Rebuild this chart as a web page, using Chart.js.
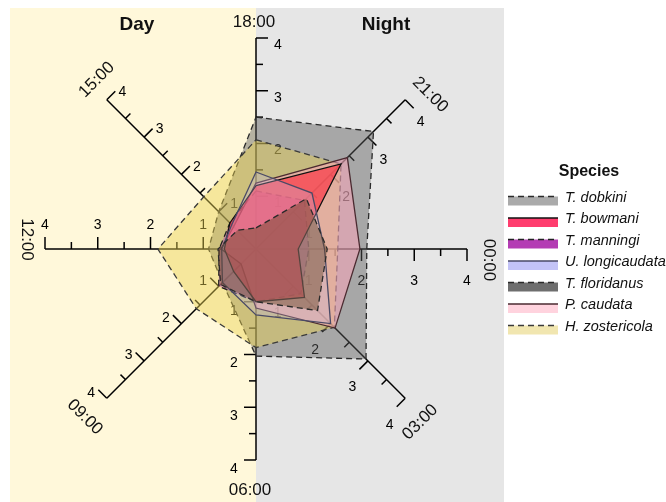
<!DOCTYPE html>
<html>
<head>
<meta charset="utf-8">
<script src="https://cdn.jsdelivr.net/npm/chart.js@4.4.0/dist/chart.umd.min.js"></script>
<style>
  html, body { margin: 0; padding: 0; background: #ffffff; }
  #wrap { position: relative; width: 666px; height: 502px; }
</style>
</head>
<body>
<div id="wrap"><canvas id="c" width="666" height="502"></canvas></div>
<script>
// Hours of the day, clockwise from the top
const timeLabels = ['18:00', '21:00', '00:00', '03:00', '06:00', '09:00', '12:00', '15:00'];
const tickValues = [1, 2, 3, 4];
const minorTickValues = [1.5, 2.5, 3.5];

const speciesNames = ['T. dobkini', 'T. bowmani', 'T. manningi', 'U. longicaudata',
                      'T. floridanus', 'P. caudata', 'H. zostericola'];

// Activity per time of day for each species
const dobkini      = [2.50, 3.15, 2.10, 2.95, 2.03, 0.90, 0.90, 1.00];
const bowmani      = [1.20, 2.28, 0.80, 1.30, 1.00, 0.60, 0.60, 0.70];
const manningi     = [1.10, 1.30, 1.00, 1.20, 1.00, 1.00, 0.70, 0.70];
const longicaudata = [1.46, 1.50, 1.30, 2.00, 1.25, 0.90, 0.65, 0.65];
const floridanus   = [0.40, 1.35, 1.35, 1.65, 1.00, 0.95, 0.72, 0.50];
const caudata      = [1.25, 2.45, 1.97, 2.12, 1.12, 0.40, 0.66, 0.60];
const zostericola  = [2.07, 2.28, 1.55, 2.10, 1.87, 1.60, 1.86, 1.40];

const seriesValues = [dobkini, bowmani, manningi, longicaudata, floridanus, caudata, zostericola];

// Styling per species (same order as speciesNames)
const fillColors = [
  'rgba(90,90,90,0.45)',
  'rgba(255,40,60,0.62)',
  'rgba(170,40,175,0.40)',
  'rgba(195,185,230,0.30)',
  'rgba(105,70,40,0.45)',
  'rgba(250,165,185,0.55)',
  'rgba(235,210,80,0.45)'
];
const legendFills = ['#AAAAAA', '#FF3D6E', '#B43CB4', '#C3C3F7', '#6E6E6E', '#FFD3DE', '#F1E6B0'];
const lineColors = ['#2a2a2a', '#111111', '#222222', '#4a4a66', '#2a2a2a', '#4a2a30', '#3a3a3a'];
const dashed = [true, false, true, false, true, false, true];
// stacking: higher number is painted first
const drawOrder = [7, 3, 5, 2, 1, 4, 6];

const FONT = '"Liberation Sans", Arial, Helvetica, sans-serif';

const datasets = speciesNames.map((name, i) => ({
  label: name,
  data: seriesValues[i],
  backgroundColor: fillColors[i],
  borderColor: lineColors[i],
  borderWidth: 1.3,
  borderDash: dashed[i] ? [6, 4] : [],
  fill: true,
  pointRadius: 0,
  pointHoverRadius: 0,
  tension: 0,
  order: drawOrder[i]
}));

// Day / Night background panels and their headings
const panelsPlugin = {
  id: 'dayNightPanels',
  beforeDraw(chart) {
    const ctx = chart.ctx;
    const r = chart.scales.r;
    const cx = r.xCenter;
    ctx.save();
    ctx.fillStyle = '#FFF8DA';
    ctx.fillRect(10, 8, cx - 10, 494);
    ctx.fillStyle = '#E6E6E6';
    ctx.fillRect(cx, 8, 504 - cx, 494);
    ctx.fillStyle = '#111111';
    ctx.font = 'bold 19px ' + FONT;
    ctx.textAlign = 'center';
    ctx.textBaseline = 'middle';
    ctx.fillText('Day', 137, 25);
    ctx.fillText('Night', 386, 25);
    ctx.restore();
  }
};

// One graduated axis per hour, with ticks on the clockwise side
const tickLabelShiftY = [7, 7, 10, 11, 9, 10, -2, 8];
const axesPlugin = {
  id: 'hourAxes',
  beforeDatasetsDraw(chart) {
    const ctx = chart.ctx;
    const r = chart.scales.r;
    ctx.save();
    ctx.strokeStyle = '#000000';
    ctx.fillStyle = '#000000';
    ctx.lineWidth = 1.5;
    ctx.font = '14px ' + FONT;
    ctx.textAlign = 'center';
    ctx.textBaseline = 'middle';
    timeLabels.forEach((t, i) => {
      const o = r.getPointPositionForValue(i, 0);
      const e = r.getPointPositionForValue(i, 4);
      const len = Math.hypot(e.x - o.x, e.y - o.y);
      const ux = (e.x - o.x) / len, uy = (e.y - o.y) / len;
      const px = -uy, py = ux;
      ctx.beginPath();
      ctx.moveTo(o.x, o.y);
      ctx.lineTo(e.x, e.y);
      ctx.stroke();
      const marks = tickValues.map(v => [v, 12]).concat(minorTickValues.map(v => [v, 7]));
      marks.forEach(([v, L]) => {
        const p = r.getPointPositionForValue(i, v);
        ctx.beginPath();
        ctx.moveTo(p.x, p.y);
        ctx.lineTo(p.x + px * L, p.y + py * L);
        ctx.stroke();
      });
      tickValues.forEach(v => {
        const p = r.getPointPositionForValue(i, v);
        ctx.fillText(String(v), p.x + px * 22, p.y + py * 22 + tickLabelShiftY[i]);
      });
    });
    ctx.restore();
  }
};

// Hour names at the outer end of each axis
const nameOffsets = [[-2, -16], [25, -5], [21.5, 11], [15, 24], [-6, 30], [-22, 19], [-18.5, -9.5], [-10, -20]];
const nameRotations = [0, 45, 90, -45, 0, 45, 90, -45];
const namesPlugin = {
  id: 'hourNames',
  afterDatasetsDraw(chart) {
    const ctx = chart.ctx;
    const r = chart.scales.r;
    ctx.save();
    ctx.fillStyle = '#111111';
    ctx.font = '17px ' + FONT;
    ctx.textAlign = 'center';
    ctx.textBaseline = 'middle';
    timeLabels.forEach((t, i) => {
      const e = r.getPointPositionForValue(i, 4);
      ctx.save();
      ctx.translate(e.x + nameOffsets[i][0], e.y + nameOffsets[i][1]);
      ctx.rotate(nameRotations[i] * Math.PI / 180);
      ctx.fillText(t, 0, 0);
      ctx.restore();
    });
    ctx.restore();
  }
};

// Species key on the right
const legendPlugin = {
  id: 'speciesKey',
  afterDraw(chart) {
    const ctx = chart.ctx;
    ctx.save();
    ctx.fillStyle = '#111111';
    ctx.font = 'bold 16px ' + FONT;
    ctx.textAlign = 'center';
    ctx.textBaseline = 'middle';
    ctx.fillText('Species', 589, 172);
    const x0 = 508, x1 = 558;
    speciesNames.forEach((name, i) => {
      const y = 196.5 + i * 21.5;
      ctx.fillStyle = legendFills[i];
      ctx.fillRect(x0, y, x1 - x0, 9);
      ctx.strokeStyle = lineColors[i];
      ctx.lineWidth = 1.6;
      ctx.setLineDash(dashed[i] ? [6, 4] : []);
      ctx.beginPath();
      ctx.moveTo(x0, y);
      ctx.lineTo(x1, y);
      ctx.stroke();
      ctx.setLineDash([]);
      ctx.fillStyle = '#111111';
      ctx.font = 'italic 14.5px ' + FONT;
      ctx.textAlign = 'left';
      ctx.fillText(name, 565, y + 1);
    });
    ctx.restore();
  }
};

new Chart(document.getElementById('c'), {
  type: 'radar',
  data: { labels: timeLabels, datasets: datasets },
  options: {
    responsive: false,
    animation: false,
    devicePixelRatio: 1,
    layout: { padding: { left: 45, top: 38, right: 199, bottom: 42 } },
    plugins: { legend: { display: false }, tooltip: { enabled: false } },
    elements: { line: { borderJoinStyle: 'miter' } },
    scales: {
      r: {
        min: 0,
        max: 4,
        startAngle: 0,
        grid: { display: false },
        angleLines: { display: false },
        ticks: { display: false, stepSize: 1 },
        pointLabels: { display: false }
      }
    }
  },
  plugins: [panelsPlugin, axesPlugin, namesPlugin, legendPlugin]
});
</script>
</body>
</html>
